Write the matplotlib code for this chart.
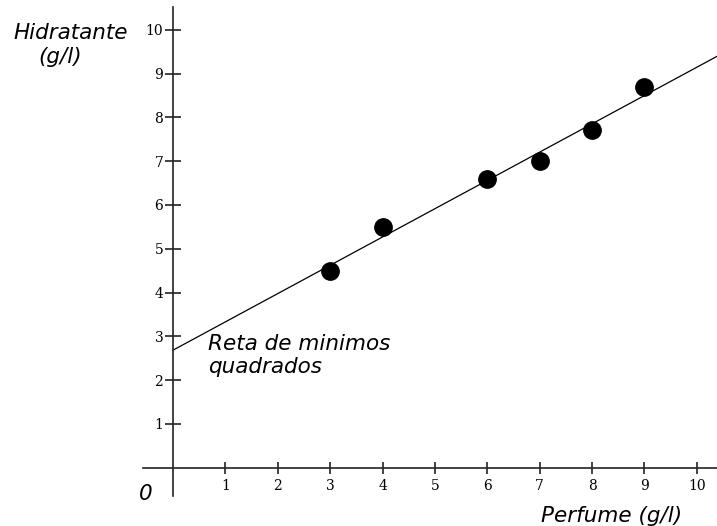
import numpy as np
import matplotlib
matplotlib.use("Agg")
import matplotlib.pyplot as plt

# Data
perfume = [3, 4, 6, 7, 8, 9]
hidratante = [4.5, 5.5, 6.6, 7.0, 7.7, 8.7]
x_ticks = [1, 2, 3, 4, 5, 6, 7, 8, 9, 10]
y_ticks = [1, 2, 3, 4, 5, 6, 7, 8, 9, 10]

W, H = 717, 526
fig = plt.figure(figsize=(W / 100, H / 100), dpi=100)
ax = fig.add_axes([0, 0, 1, 1])
ax.set_facecolor("white")

x0_px, y0_px = 173.0, 467.7
ux, uy = 52.38, 43.8
ax.set_xlim((0 - x0_px) / ux, (W - x0_px) / ux)
ax.set_ylim((y0_px - H) / uy, y0_px / uy)

# Least squares line
slope, intercept = np.polyfit(perfume, hidratante, 1)
xl = np.array([0, ax.get_xlim()[1]])
ax.plot(xl, intercept + slope * xl, color="black", lw=0.9, zorder=2)

ax.plot(perfume, hidratante, "o", color="black", ms=12.5, zorder=3)

# Axes through origin
for s in ["top", "right"]:
    ax.spines[s].set_visible(False)
ax.spines["left"].set_position(("data", 0))
ax.spines["bottom"].set_position(("data", 0))
ax.spines["left"].set_bounds((y0_px - 495.7) / uy, (y0_px - 6.7) / uy)
ax.spines["bottom"].set_bounds((143 - x0_px) / ux, (W - x0_px) / ux)
for s in ["left", "bottom"]:
    ax.spines[s].set_linewidth(1.2)
    ax.spines[s].set_color("#222222")

ax.set_xticks(x_ticks)
ax.set_yticks(y_ticks)
ax.set_xticklabels([str(v) for v in x_ticks], family="DejaVu Serif", fontsize=10)
ax.set_yticklabels([str(v) for v in y_ticks], family="DejaVu Serif", fontsize=10)
ax.tick_params(axis="x", direction="inout", length=8.6, width=1.2, pad=4, color="#222222")
ax.tick_params(axis="y", direction="inout", length=11, width=1.2, pad=1.5, color="#222222")

tf = dict(family="DejaVu Sans", style="italic", fontsize=15.5, color="black")

def px(x, y):
    return x / W, 1 - y / H

fig.text(*px(13, 39.3), "Hidratante", ha="left", va="baseline", **tf)
fig.text(*px(38, 63), "(g/l)", ha="left", va="baseline", **tf)
fig.text(*px(146, 494), "0", ha="center", va="center", **tf)
fig.text(*px(540.7, 521.7), "Perfume (g/l)", ha="left", va="baseline", **tf)
fig.text(*px(208, 350), "Reta de minimos", ha="left", va="baseline", **tf)
fig.text(*px(208, 373), "quadrados", ha="left", va="baseline", **tf)

fig.savefig("out.png", dpi=100, facecolor="white")
